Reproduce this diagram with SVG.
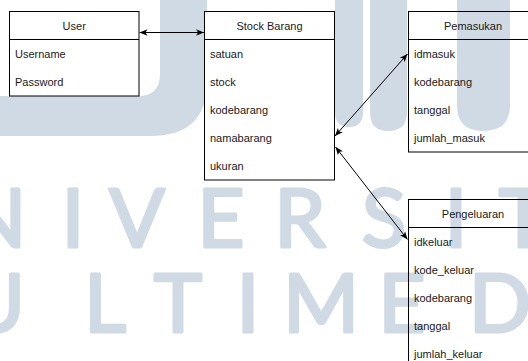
<svg xmlns="http://www.w3.org/2000/svg" width="528" height="361" viewBox="0 0 528 361">
  <style>
    .wm { fill: #cfdae5; }
    .wmt { fill: #cfdae5; stroke: #cfdae5; stroke-width: 3; stroke-linejoin: round; font-family: Lato, "Open Sans", sans-serif; font-weight: 400; font-size: 82px; text-anchor: middle; }
    .box { fill: none; stroke: #000; stroke-width: 1; }
    .hdr { font-family: "Liberation Sans", Arial, sans-serif; font-size: 11px; fill: #1a1a1a; text-anchor: middle; }
    .row { font-family: "Liberation Sans", Arial, sans-serif; font-size: 11px; fill: #1a1a1a; }
    .edge { fill: none; stroke: #000; stroke-width: 1; }
  </style>
  <defs>
    <marker id="arr" viewBox="0 0 10 10" refX="10" refY="5" markerWidth="8" markerHeight="8" markerUnits="userSpaceOnUse" orient="auto-start-reverse">
      <path d="M0,1 L10,5 L0,9 L2.5,5 Z" fill="#000"/>
    </marker>
  </defs>
  <rect width="528" height="361" fill="#fff"/>
  <g id="watermark">
    <path class="wm" d="M160,0 H207 V82 Q207,136 150,136 H0 V96 H138 Q160,96 160,74 Z"/>
    <path class="wm" d="M335,0 H363 V112 Q363,127 349,127 Q335,127 335,112 Z"/>
    <path class="wm" d="M370,0 H407 V112 Q407,131 388,131 Q370,131 370,112 Z"/>
    <path class="wm" d="M457,0 H510 V105 Q510,131 483,131 Q457,131 457,105 Z"/>
    <text class="wmt" x="-5" y="247">N</text>
    <text class="wmt" x="73" y="247">I</text>
    <text class="wmt" x="137" y="247">V</text>
    <text class="wmt" x="221" y="247">E</text>
    <text class="wmt" x="300" y="247">R</text>
    <text class="wmt" x="384" y="247">S</text>
    <text class="wmt" x="456" y="247">I</text>
    <text class="wmt" x="523" y="247">T</text>
    <text class="wmt" x="-5" y="332">U</text>
    <text class="wmt" x="105" y="332">L</text>
    <text class="wmt" x="178" y="332">T</text>
    <text class="wmt" x="248" y="332">I</text>
    <text class="wmt" x="321" y="332">M</text>
    <text class="wmt" x="402" y="332">E</text>
    <text class="wmt" x="500" y="332">D</text>
  </g>
  <g id="user">
    <rect x="9.5" y="11.5" width="129.5" height="84.5" fill="#fff" stroke="#000"/>
    <line class="box" x1="9.5" y1="39.5" x2="139" y2="39.5"/>
    <text class="hdr" x="74.2" y="29.5">User</text>
    <text class="row" x="15" y="57.5">Username</text>
    <text class="row" x="15" y="85.5">Password</text>
  </g>
  <g id="stock-barang">
    <rect x="204.5" y="11.5" width="130" height="168.5" fill="#fff" stroke="#000"/>
    <line class="box" x1="204.5" y1="39.5" x2="334.5" y2="39.5"/>
    <text class="hdr" x="269.5" y="29.5">Stock Barang</text>
    <text class="row" x="210" y="57.5">satuan</text>
    <text class="row" x="210" y="85.5">stock</text>
    <text class="row" x="210" y="113.5">kodebarang</text>
    <text class="row" x="210" y="141.5">namabarang</text>
    <text class="row" x="210" y="169.5">ukuran</text>
  </g>
  <g id="pemasukan">
    <rect class="box" x="408.5" y="11.5" width="129" height="140.5"/>
    <line class="box" x1="408.5" y1="39.5" x2="537.5" y2="39.5"/>
    <text class="hdr" x="473" y="29.5">Pemasukan</text>
    <text class="row" x="414" y="57.5">idmasuk</text>
    <text class="row" x="414" y="85.5">kodebarang</text>
    <text class="row" x="414" y="113.5">tanggal</text>
    <text class="row" x="414" y="141.5">jumlah_masuk</text>
  </g>
  <g id="pengeluaran">
    <rect class="box" x="408.5" y="199.5" width="129" height="168.5"/>
    <line class="box" x1="408.5" y1="227.5" x2="537.5" y2="227.5"/>
    <text class="hdr" x="473" y="217.5">Pengeluaran</text>
    <text class="row" x="414" y="245.5">idkeluar</text>
    <text class="row" x="414" y="273.5">kode_keluar</text>
    <text class="row" x="414" y="301.5">kodebarang</text>
    <text class="row" x="414" y="329.5">tanggal</text>
    <text class="row" x="414" y="357.5">jumlah_keluar</text>
  </g>
  <g id="connectors">
    <line class="edge" x1="139.5" y1="32.5" x2="204" y2="32.5" marker-start="url(#arr)" marker-end="url(#arr)"/>
    <line class="edge" x1="335" y1="136" x2="407.5" y2="54" marker-start="url(#arr)" marker-end="url(#arr)"/>
    <line class="edge" x1="335.5" y1="147" x2="407.5" y2="239.5" marker-start="url(#arr)" marker-end="url(#arr)"/>
  </g>
</svg>
